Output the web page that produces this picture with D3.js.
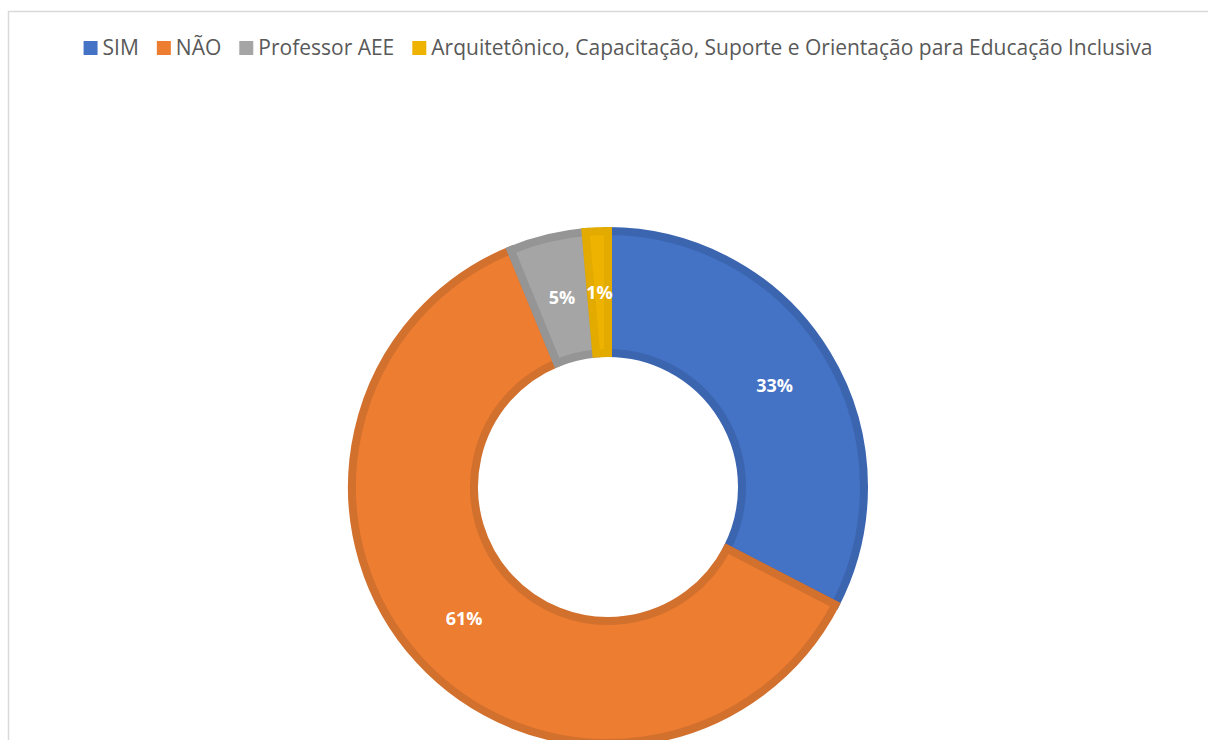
<!DOCTYPE html>
<html>
<head>
<meta charset="utf-8">
<script src="https://cdn.jsdelivr.net/npm/d3@7"></script>
<style>
  body { margin: 0; background: #fff; }
  svg { display: block; }
</style>
</head>
<body>
<div id="chart"></div>
<script>
var categories = ["SIM", "NÃO", "Professor AEE", "Arquitetônico, Capacitação, Suporte e Orientação para Educação Inclusiva"];
var values = [32.6, 61.2, 4.8, 1.4];
var labels = ["33%", "61%", "5%", "1%"];
var fills = ["#4472C4", "#ED7D31", "#A5A5A5", "#EEB200"];
var strokes = ["#3C65B0", "#D2702E", "#959595", "#E3AA00"];

var width = 1208, height = 740,
    cx = 608, cy = 487,
    outerR = 256, innerR = 134;

var svg = d3.select("#chart").append("svg")
  .attr("width", width)
  .attr("height", height);

// chart frame
svg.append("path")
  .attr("d", "M8.5," + height + "V11.5H" + width)
  .attr("fill", "none")
  .attr("stroke", "#d9d9d9")
  .attr("stroke-width", 1.5);

var data = categories.map(function(c, i) {
  return {name: c, value: values[i], label: labels[i], fill: fills[i], stroke: strokes[i]};
});

var pie = d3.pie().sort(null).value(function(d) { return d.value; });
var arc = d3.arc().innerRadius(innerR).outerRadius(outerR);
var labelArc = d3.arc().innerRadius(195).outerRadius(195);

var g = svg.append("g").attr("transform", "translate(" + cx + "," + cy + ")");

g.selectAll("path.slice")
  .data(pie(data))
  .enter()
  .append("path")
  .attr("class", "slice")
  .attr("d", arc)
  .attr("fill", function(d) { return d.data.fill; })
  .attr("stroke", function(d) { return d.data.stroke; })
  .attr("stroke-width", 8)
  .attr("stroke-linejoin", "miter");

g.selectAll("text.lbl")
  .data(pie(data))
  .enter()
  .append("text")
  .attr("class", "lbl")
  .attr("transform", function(d) { return "translate(" + labelArc.centroid(d) + ")"; })
  .attr("text-anchor", "middle")
  .attr("dy", "0.35em")
  .style("font-family", "'Open Sans', 'Noto Sans', sans-serif")
  .style("font-weight", "bold")
  .style("font-size", "18px")
  .style("fill", "#fff")
  .text(function(d) { return d.data.label; });

// legend
var legend = svg.append("g").attr("class", "legend");
var box = 14, gapBox = 5, gapItem = 18;
var items = legend.selectAll("g.item")
  .data(data)
  .enter()
  .append("g")
  .attr("class", "item");

items.append("rect")
  .attr("width", box)
  .attr("height", box)
  .attr("y", 41)
  .attr("fill", function(d) { return d.fill; });

items.append("text")
  .attr("x", box + gapBox)
  .attr("y", 55)
  .style("font-family", "'Open Sans', 'Noto Sans', sans-serif")
  .style("font-size", "21px")
  .style("fill", "#595959")
  .text(function(d) { return d.name; });

var x = 0;
items.each(function() {
  var item = d3.select(this);
  item.attr("transform", "translate(" + x + ",0)");
  var w = item.select("text").node().getComputedTextLength();
  x += box + gapBox + w + gapItem;
});
var total = x - gapItem;
legend.attr("transform", "translate(" + (618 - total / 2) + ",0)");
</script>
</body>
</html>
